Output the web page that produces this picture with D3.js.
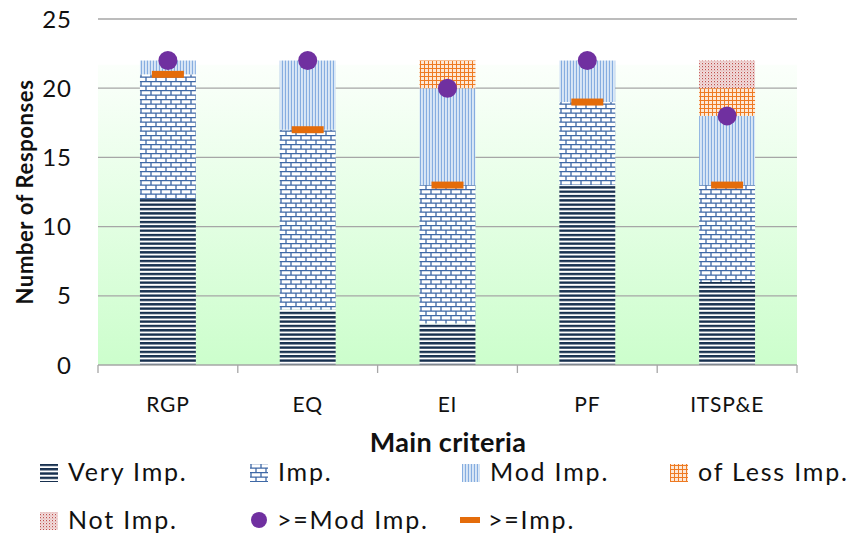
<!DOCTYPE html>
<html>
<head>
<meta charset="utf-8">
<script src="https://cdn.jsdelivr.net/npm/d3@7"></script>
<style>
  html, body { margin: 0; padding: 0; background: #fff; }
  svg { display: block; font-family: Lato, "Open Sans", sans-serif; }
</style>
</head>
<body>
<svg id="chart" width="853" height="537"></svg>
<script>
// Survey responses per main criterion
const categories = ["RGP", "EQ", "EI", "PF", "ITSP&E"];
const veryImp = [12, 4, 3, 13, 6];
const imp     = [9, 13, 10, 6, 7];
const modImp  = [1, 5, 7, 3, 5];
const lessImp = [0, 0, 2, 0, 2];
const notImp  = [0, 0, 0, 0, 2];
// Cumulative markers
const geModImp = [22, 22, 20, 22, 18];
const geImp    = [21, 17, 13, 19, 13];
const yTicks = [0, 5, 10, 15, 20, 25];

const seriesNames = ["Very Imp.", "Imp.", "Mod Imp.", "of Less Imp.", "Not Imp."];
const seriesValues = [veryImp, imp, modImp, lessImp, notImp];
const patternIds = ["pVery", "pImp", "pMod", "pLess", "pNot"];

const svg = d3.select("#chart");
const margin = { left: 98, right: 56, top: 19, bottom: 172 };
const W = 853, H = 537;

const x = d3.scaleBand().domain(categories).range([margin.left, W - margin.right]).paddingInner(0.6).paddingOuter(0.3);
const xBand = d3.scaleBand().domain(categories).range([margin.left, W - margin.right]);
const y = d3.scaleLinear().domain([0, 25]).range([H - margin.bottom, margin.top]);

const defs = svg.append("defs");

// Plot background gradient
const grad = defs.append("linearGradient").attr("id", "bgGrad")
  .attr("x1", 0).attr("y1", 0).attr("x2", 0).attr("y2", 1);
grad.append("stop").attr("offset", "0%").attr("stop-color", "#fbfffb");
grad.append("stop").attr("offset", "100%").attr("stop-color", "#ccfecc");

// Fill patterns
function pattern(id, w, h) {
  return defs.append("pattern").attr("id", id).attr("patternUnits", "userSpaceOnUse")
    .attr("width", w).attr("height", h);
}
// horizontal navy stripes
let p = pattern("pVery", 10, 4.33);
p.append("rect").attr("width", 10).attr("height", 4.33).attr("fill", "#ffffff");
p.append("rect").attr("y", 0).attr("width", 10).attr("height", 2.4).attr("fill", "#17304f");
// brick
p = pattern("pImp", 10, 9);
p.append("rect").attr("width", 10).attr("height", 9).attr("fill", "#ffffff");
p.append("path")
  .attr("d", "M0,0.6H10 M0,5.1H10 M1,0.6V5.1 M6,5.1V9")
  .attr("stroke", "#3e68a6").attr("stroke-width", 1.3).attr("fill", "none");
// vertical light-blue stripes
p = pattern("pMod", 3, 10);
p.append("rect").attr("width", 3).attr("height", 10).attr("fill", "#c6daf1");
p.append("rect").attr("x", 0).attr("width", 1).attr("height", 10).attr("fill", "#86ade0");
p.append("rect").attr("x", 1.5).attr("width", 0.8).attr("height", 10).attr("fill", "#ffffff").attr("opacity", 0.7);
// orange grid
p = pattern("pLess", 4, 4);
p.append("rect").attr("width", 4).attr("height", 4).attr("fill", "#fde8d6");
p.append("path").attr("d", "M0,0.5H4 M0.5,0V4")
  .attr("stroke", "#ee7a22").attr("stroke-width", 1).attr("fill", "none");
// red dots
p = pattern("pNot", 3, 3);
p.append("rect").attr("width", 3).attr("height", 3).attr("fill", "#f1dcdc");
p.append("rect").attr("x", 0).attr("y", 0).attr("width", 1).attr("height", 1.2).attr("fill", "#c0504d");
p.append("rect").attr("x", 1.5).attr("y", 1.5).attr("width", 0.8).attr("height", 1).attr("fill", "#d8908e");

// background
const x0 = margin.left, x1 = W - margin.right;
svg.append("rect")
  .attr("x", x0).attr("y", y(21.7))
  .attr("width", x1 - x0).attr("height", y(0) - y(21.7))
  .attr("fill", "url(#bgGrad)");

// gridlines
svg.append("g").selectAll("line").data(yTicks.filter(d => d > 0)).join("line")
  .attr("x1", x0).attr("x2", x1)
  .attr("y1", d => y(d)).attr("y2", d => y(d))
  .attr("stroke", "#a6a6a6").attr("stroke-width", 1.3);

// stacked bars
const rows = categories.map((c, i) => {
  const o = { cat: c };
  seriesNames.forEach((s, k) => o[s] = seriesValues[k][i]);
  return o;
});
const stacked = d3.stack().keys(seriesNames)(rows);
svg.append("g").selectAll("g").data(stacked).join("g")
  .attr("fill", (d, k) => `url(#${patternIds[k]})`)
  .selectAll("rect").data(d => d.filter(s => s[1] > s[0])).join("rect")
  .attr("x", d => x(d.data.cat))
  .attr("width", x.bandwidth())
  .attr("y", d => y(d[1]))
  .attr("height", d => y(d[0]) - y(d[1]));

// >=Imp. markers
const dashW = 32, dashH = 7;
svg.append("g").selectAll("rect").data(categories).join("rect")
  .attr("x", d => x(d) + x.bandwidth() / 2 - dashW / 2)
  .attr("y", (d, i) => y(geImp[i]) - dashH / 2)
  .attr("width", dashW).attr("height", dashH)
  .attr("fill", "#e46c0a");

// >=Mod Imp. markers
svg.append("g").selectAll("circle").data(categories).join("circle")
  .attr("cx", d => x(d) + x.bandwidth() / 2)
  .attr("cy", (d, i) => y(geModImp[i]))
  .attr("r", 9.5)
  .attr("fill", "#7030a0");

// x axis
const xAxis = svg.append("g").attr("transform", `translate(0,${y(0)})`);
xAxis.append("line").attr("x1", x0).attr("x2", x1).attr("stroke", "#a6a6a6").attr("stroke-width", 1.3);
const tickXs = categories.map(c => xBand(c)).concat([x1]);
xAxis.selectAll("line.tk").data(tickXs).join("line").attr("class", "tk")
  .attr("x1", d => d).attr("x2", d => d).attr("y1", 0).attr("y2", 8)
  .attr("stroke", "#a6a6a6").attr("stroke-width", 1.3);
xAxis.selectAll("text").data(categories).join("text")
  .attr("x", d => xBand(d) + xBand.bandwidth() / 2)
  .attr("y", 47)
  .attr("text-anchor", "middle")
  .attr("font-size", 21).attr("letter-spacing", 0.8).attr("fill", "#111")
  .text(d => d);

// y axis labels
svg.append("g").selectAll("text").data(yTicks).join("text")
  .attr("x", 72).attr("y", d => y(d) + 8.5)
  .attr("text-anchor", "end")
  .attr("font-size", 24).attr("letter-spacing", 1).attr("fill", "#111")
  .text(d => d);

// axis titles
svg.append("text")
  .attr("transform", `translate(33,${(y(0) + y(25)) / 2}) rotate(-90)`)
  .attr("text-anchor", "middle")
  .attr("font-size", 22).attr("font-weight", "bold").attr("letter-spacing", 0.6).attr("fill", "#111")
  .text("Number of Responses");
svg.append("text")
  .attr("x", 448).attr("y", 452)
  .attr("text-anchor", "middle")
  .attr("font-size", 27).attr("font-weight", "bold").attr("letter-spacing", 0.3).attr("fill", "#111")
  .text("Main criteria");

// legend
const legendItems = [
  { name: "Very Imp.", type: "box", fill: "url(#pVery)", x: 40, y: 481 },
  { name: "Imp.", type: "box", fill: "url(#pImp)", x: 250, y: 481 },
  { name: "Mod Imp.", type: "box", fill: "url(#pMod)", x: 462, y: 481 },
  { name: "of Less Imp.", type: "box", fill: "url(#pLess)", x: 670, y: 481 },
  { name: "Not Imp.", type: "box", fill: "url(#pNot)", x: 40, y: 529 },
  { name: ">=Mod Imp.", type: "dot", fill: "#7030a0", x: 250, y: 529 },
  { name: ">=Imp.", type: "dash", fill: "#e46c0a", x: 460, y: 529 }
];
const lg = svg.append("g").selectAll("g").data(legendItems).join("g")
  .attr("transform", d => `translate(${d.x},${d.y})`);
lg.each(function (d) {
  const g = d3.select(this);
  if (d.type === "box") {
    g.append("rect").attr("x", 0).attr("y", -17).attr("width", 18).attr("height", 18).attr("fill", d.fill);
  } else if (d.type === "dot") {
    g.append("circle").attr("cx", 9).attr("cy", -9).attr("r", 8).attr("fill", d.fill);
  } else {
    g.append("rect").attr("x", 0).attr("y", -12).attr("width", 20).attr("height", 6).attr("fill", d.fill);
  }
  g.append("text").attr("x", d.type === "dot" ? 27 : 28).attr("y", 0)
    .attr("font-size", 25).attr("letter-spacing", 1.8).attr("fill", "#111").text(d.name);
});
</script>
</body>
</html>
